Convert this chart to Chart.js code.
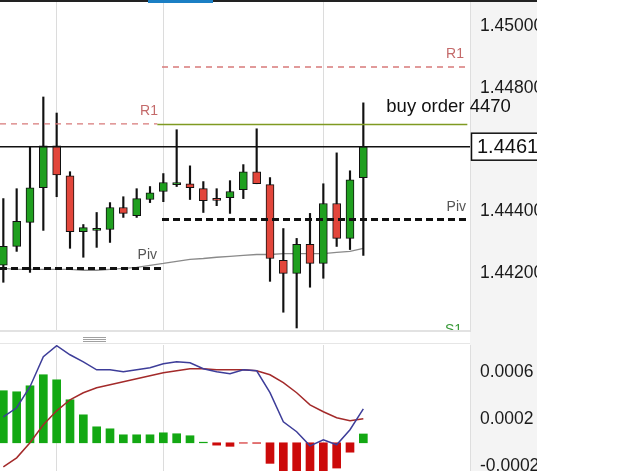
<!DOCTYPE html>
<html>
<head>
<meta charset="utf-8">
<script src="https://cdn.jsdelivr.net/npm/chart.js@4.4.1/dist/chart.umd.min.js"></script>
<style>
  html, body { margin: 0; padding: 0; background: #fff; }
  #wrap { position: relative; width: 625px; height: 471px; overflow: hidden; }
  canvas { position: absolute; left: 0; }
  #price { top: 0; }
  #macd { top: 345px; }
  .bar { position: absolute; }
</style>
</head>
<body>
<div id="wrap">
  <canvas id="price" width="537" height="332"></canvas>
  <canvas id="macd" width="537" height="126"></canvas>
  <div class="bar" style="left:0;top:332px;width:470px;height:13px;background:#fff"></div>
  <div class="bar" style="left:470px;top:332px;width:67px;height:13px;background:#f4f4f4"></div>
  <div class="bar" style="left:0;top:330px;width:470px;height:2px;background:#e2e2e2"></div>
  <div class="bar" style="left:0;top:343px;width:470px;height:1px;background:#e6e6e6"></div>
  <div class="bar" style="left:83px;top:337px;width:23px;height:1px;background:#a0a0a0"></div>
  <div class="bar" style="left:83px;top:339px;width:23px;height:1px;background:#a0a0a0"></div>
  <div class="bar" style="left:83px;top:341px;width:23px;height:1px;background:#a0a0a0"></div>
  <div class="bar" style="left:0;top:0;width:537px;height:2px;background:#222"></div>
  <div class="bar" style="left:148px;top:0;width:65px;height:3px;background:#1b7fc4"></div>
</div>
<script>
// candles (oldest first)
const opens  = [1.44226,1.44287,1.44365,1.44477,1.44613,1.44516,1.44335,1.44339,1.44342,1.44413,1.44387,1.44439,1.44465,1.44487,1.44490,1.44474,1.44439,1.44445,1.44471,1.44529,1.44487,1.44242,1.44200,1.44294,1.44232,1.44426,1.44313,1.44510];
const closes = [1.44287,1.44368,1.44477,1.44613,1.44519,1.44335,1.44348,1.44342,1.44413,1.44394,1.44442,1.44461,1.44494,1.44490,1.44477,1.44435,1.44436,1.44465,1.44529,1.44490,1.44248,1.44200,1.44294,1.44232,1.44426,1.44313,1.44503,1.44610];
const highs  = [1.44442,1.44474,1.44610,1.44771,1.44719,1.44529,1.44358,1.44397,1.44429,1.44448,1.44474,1.44481,1.44523,1.44665,1.44548,1.44497,1.44474,1.44500,1.44552,1.44668,1.44510,1.44345,1.44313,1.44394,1.44490,1.44590,1.44532,1.44752];
const lows   = [1.44171,1.44271,1.44203,1.44339,1.44448,1.44281,1.44252,1.44284,1.44300,1.44381,1.44381,1.44429,1.44432,1.44481,1.44439,1.44397,1.44419,1.44394,1.44442,1.44490,1.44174,1.44074,1.44023,1.44155,1.44184,1.44287,1.44277,1.44258];
const maLine = [1.44216,1.44213,1.44213,1.44213,1.44213,1.44213,1.44210,1.44210,1.44213,1.44216,1.44219,1.44226,1.44232,1.44239,1.44245,1.44248,1.44252,1.44255,1.44258,1.44261,1.44261,1.44264,1.44264,1.44264,1.44264,1.44268,1.44271,1.44281];

// pivot levels, previous day / current day
const r1Left = 1.44684, r1Right = 1.44868;
const pivLeft = 1.44216, pivRight = 1.44374;
const s1Right = 1.43994;
const buyOrder = 1.44682;
const lastPrice = 1.44610;

const priceTicks = [1.442, 1.444, 1.446, 1.448, 1.450];

// MACD panel
const macdHist = [0.000443,0.000434,0.000485,0.000579,0.000536,0.000366,0.000238,0.000136,0.000119,0.000068,0.000068,0.000068,0.000085,0.000077,0.000060,0.000005,-0.000020,-0.000030,-0.000003,-0.000004,-0.000175,-0.000290,-0.000300,-0.000300,-0.000290,-0.000215,-0.000080,0.000075];
const macdLine = [0.000221,0.000298,0.000477,0.000732,0.000826,0.000749,0.000689,0.000621,0.000621,0.000604,0.000621,0.000638,0.000672,0.000689,0.000681,0.000630,0.000604,0.000587,0.000621,0.000613,0.000426,0.000179,0.000094,-0.000026,0.000026,-0.000017,0.000111,0.000289];
const signalLine = [-0.000204,-0.000128,0.000000,0.000153,0.000272,0.000366,0.000426,0.000468,0.000494,0.000519,0.000545,0.000570,0.000596,0.000613,0.000630,0.000630,0.000621,0.000621,0.000621,0.000613,0.000579,0.000511,0.000426,0.000323,0.000264,0.000213,0.000187,0.000204];
const macdTicks = [-0.0002, 0.0002, 0.0006];

// day separators (bar index)
const gridIdx = [4, 12, 24];

const xMin = -0.25, xMax = 35.0;
const split = 11.9;       // start of new session
const buyFrom = 11.55, buyTo = 34.8;
const AXIS_W = 67;
const idx = closes.map((_, i) => i);
const GREEN = '#1f9f1f', RED = '#e2463b';
const FONT = "'Liberation Sans', Arial, sans-serif";

const seg = (a, b, y) => [{ x: a, y: y }, { x: b, y: y }];

function axisBg(chart) {
  const { ctx, chartArea: a, width, height } = chart;
  ctx.save();
  ctx.fillStyle = '#f4f4f4';
  ctx.fillRect(a.right, 0, width - a.right, height);
  ctx.fillStyle = '#dedede';
  ctx.fillRect(a.right, 0, 1, height);
  ctx.restore();
}

const priceDecor = {
  id: 'priceDecor',
  beforeDraw: axisBg,
  afterDraw(chart) {
    const { ctx, chartArea: a, width } = chart;
    const xs = chart.scales.x, ys = chart.scales.y;
    ctx.save();
    ctx.textBaseline = 'alphabetic';
    ctx.font = '14px ' + FONT;
    ctx.textAlign = 'right';
    ctx.fillStyle = '#c46a6a';
    ctx.fillText('R1', xs.getPixelForValue(split) - 4, ys.getPixelForValue(r1Left) - 9);
    ctx.fillText('R1', a.right - 6, ys.getPixelForValue(r1Right) - 9);
    ctx.fillStyle = '#555';
    ctx.fillText('Piv', xs.getPixelForValue(split) - 5, ys.getPixelForValue(pivLeft) - 9);
    ctx.fillText('Piv', a.right - 4, ys.getPixelForValue(pivRight) - 9);
    ctx.fillStyle = '#3a9a3a';
    ctx.fillText('S1', a.right - 8, ys.getPixelForValue(s1Right) - 3);

    // buy order note
    ctx.textAlign = 'left';
    ctx.fillStyle = '#111';
    ctx.font = '18.5px ' + FONT;
    ctx.fillText('buy order 4470', xs.getPixelForValue(idx.length - 1) + 23, ys.getPixelForValue(buyOrder) - 12);

    // last price box
    const py = ys.getPixelForValue(lastPrice);
    ctx.fillStyle = '#fff';
    ctx.fillRect(a.right + 1, py - 14, width - a.right, 28);
    ctx.strokeStyle = '#111';
    ctx.lineWidth = 1.5;
    ctx.strokeRect(a.right + 1.5, py - 13.5, width - a.right + 4, 27);
    ctx.fillStyle = '#111';
    ctx.font = '20px ' + FONT;
    ctx.textBaseline = 'middle';
    ctx.fillText(lastPrice.toFixed(4), a.right + 7, py + 1);
    ctx.restore();
  }
};

const xScale = {
  type: 'linear', min: xMin, max: xMax,
  offset: false,
  bounds: 'ticks',
  ticks: { display: false },
  grid: { color: '#dcdcdc', drawTicks: false, lineWidth: 1, offset: false },
  border: { display: false },
  afterBuildTicks: s => { s.ticks = gridIdx.map(v => ({ value: v })); }
};

function yScale(min, max, ticks, digits) {
  return {
    position: 'right', min: min, max: max,
    grid: { display: false, drawTicks: false },
    border: { display: false },
    ticks: { padding: 10, color: '#1a1a1a', font: { family: FONT, size: 17.5 }, callback: v => v.toFixed(digits) },
    afterBuildTicks: s => { s.ticks = ticks.map(v => ({ value: v })); },
    afterFit: s => { s.width = AXIS_W; s.paddingTop = 0; s.paddingBottom = 0; }
  };
}

const common = {
  responsive: false,
  animation: false,
  events: [],
  layout: { padding: 0 },
  plugins: { legend: { display: false }, tooltip: { enabled: false } }
};

new Chart(document.getElementById('price'), {
  type: 'bar',
  data: {
    datasets: [
      { type: 'line', data: idx.map(i => ({ x: i, y: maLine[i] })), borderColor: '#8a8a8a', borderWidth: 1.3, pointRadius: 0, order: 6 },
      { type: 'bar', data: idx.map(i => ({ x: i, y: [lows[i], highs[i]] })), backgroundColor: '#111', barThickness: 1.5, grouped: false, order: 5 },
      { type: 'bar', data: idx.map(i => ({ x: i, y: [opens[i], closes[i]] })),
        backgroundColor: idx.map(i => closes[i] >= opens[i] ? GREEN : RED),
        borderColor: '#111', borderWidth: 1, borderSkipped: false, barThickness: 8, minBarLength: 2, grouped: false, order: 4 },
      { type: 'line', data: seg(xMin, split, pivLeft), borderColor: '#111', borderWidth: 3, borderDash: [7, 4], pointRadius: 0, order: 3 },
      { type: 'line', data: seg(split, xMax, pivRight), borderColor: '#111', borderWidth: 3, borderDash: [7, 4], pointRadius: 0, order: 3 },
      { type: 'line', data: seg(xMin, buyFrom, r1Left), borderColor: '#d77a7a', borderWidth: 1.3, borderDash: [6, 5], pointRadius: 0, order: 3 },
      { type: 'line', data: seg(split, xMax, r1Right), borderColor: '#d77a7a', borderWidth: 1.3, borderDash: [6, 5], pointRadius: 0, order: 3 },
      { type: 'line', data: seg(buyFrom, buyTo, buyOrder), borderColor: '#7f9a22', borderWidth: 1.5, pointRadius: 0, order: 2 },
      { type: 'line', data: seg(xMin, xMax, lastPrice), borderColor: '#111', borderWidth: 1.5, pointRadius: 0, order: 1 }
    ]
  },
  options: Object.assign({}, common, {
    scales: { x: xScale, y: yScale(1.44010, 1.45085, priceTicks, 5) }
  }),
  plugins: [priceDecor]
});

new Chart(document.getElementById('macd'), {
  type: 'bar',
  data: {
    datasets: [
      { type: 'line', data: idx.map(i => ({ x: i, y: macdLine[i] })), borderColor: '#3d3d99', borderWidth: 1.5, pointRadius: 0, order: 1 },
      { type: 'line', data: idx.map(i => ({ x: i, y: signalLine[i] })), borderColor: '#a32a2a', borderWidth: 1.5, pointRadius: 0, order: 2 },
      { type: 'bar', data: idx.map(i => ({ x: i, y: macdHist[i] })),
        backgroundColor: macdHist.map(v => v >= 0 ? '#13a813' : '#cc0a0a'),
        barThickness: 8, grouped: false, order: 3 }
    ]
  },
  options: Object.assign({}, common, {
    scales: { x: xScale, y: yScale(-0.00024, 0.000832, macdTicks, 4) }
  }),
  plugins: [{ id: 'macdBg', beforeDraw: axisBg }]
});
</script>
</body>
</html>
